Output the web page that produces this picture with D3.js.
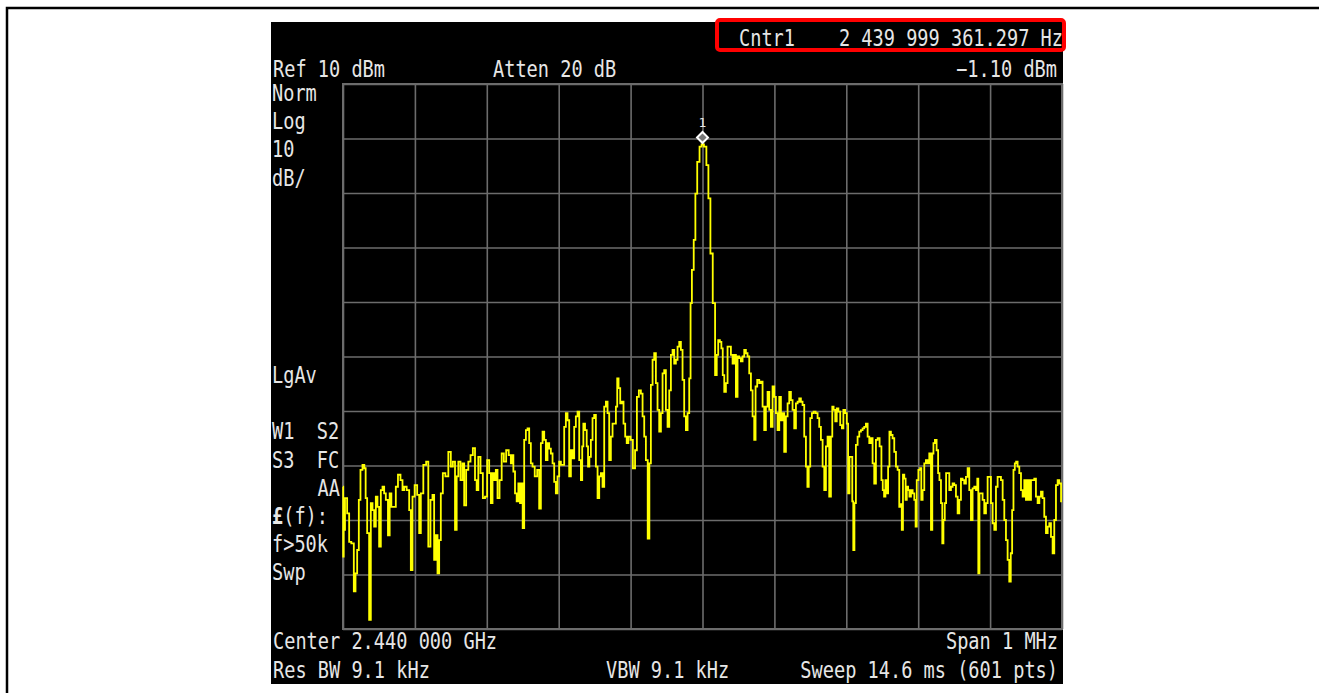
<!DOCTYPE html>
<html>
<head>
<meta charset="utf-8">
<script src="https://cdn.jsdelivr.net/npm/d3@7"></script>
<style>
  body { margin: 0; background: #fff; }
  text { font-family: "DejaVu Sans Mono", "Liberation Mono", monospace; fill: #e6e6e6; font-size: 19px; white-space: pre; }
</style>
</head>
<body>
<div id="vis"></div>
<script>
// Spectrum trace: frequency offset from centre (kHz) and level (dBm)
const freqOffsetKHz = [
  -500, -499.5, -498.6, -495.9, -492.6, -490.3, -486.6, -483.3, -481.9, -478.7, -477.3, -474.1, -471.7, -469.0, -468.0,
  -464.8, -462.5, -460.1, -457.8, -455.5, -453.2, -450.9, -448.6, -446.2, -443.9, -441.6, -439.3, -435.6, -434.6, -430.9,
  -427.7, -425.4, -421.7, -418.4, -416.1, -413.8, -409.1, -406.8, -404.5, -402.2, -398.5, -395.2, -392.9, -390.6, -386.0,
  -382.7, -380.0, -376.7, -374.4, -372.1, -369.7, -367.4, -365.1, -362.8, -359.5, -355.8, -351.2, -348.9, -345.6, -342.8,
  -341.0, -338.2, -335.0, -332.6, -330.3, -327.1, -324.3, -321.0, -317.8, -315.0, -313.2, -310.4, -307.1, -303.9, -301.1,
  -297.9, -295.5, -293.2, -290.9, -288.6, -286.3, -283.9, -280.7, -277.9, -274.7, -271.4, -267.7, -265.4,
  -264.0, -262.1, -259.4, -257.5, -254.7, -252.9, -251.0, -249.2, -246.8, -244.5, -242.2, -239.9, -237.6, -235.2, -231.5,
  -228.3, -226.0, -223.6, -221.3, -219.0, -216.7, -214.4, -212.1, -209.7, -207.4, -205.1, -202.8, -200.5, -198.1, -195.8,
  -193.5, -191.2, -188.9, -186.6, -184.2, -181.9, -179.6, -177.3, -175.0, -172.6, -170.3, -168.0, -166.6, -164.8, -162.0,
  -160.1, -158.3, -156.4, -154.1, -151.8, -149.5, -147.1, -144.8, -142.5, -140.2, -137.9, -135.5, -133.2, -130.9, -128.6,
  -126.3, -123.9, -121.6, -119.3, -117.9, -115.6, -113.3, -111.0, -108.7, -106.3, -104.5, -101.7, -98.5, -95.2, -92.4,
  -90.1, -86.9, -84.5, -82.2, -79.9, -77.6, -74.8, -73.0, -70.6, -68.3, -66.0, -63.7, -61.4, -59.0, -56.7,
  -54.4, -52.1, -49.8, -47.4, -45.1, -42.8, -40.5, -38.2, -35.9, -33.5, -31.2, -28.9, -26.6, -24.3, -21.9,
  -19.6, -17.3, -15.9, -13.6, -10.8, -9.0, -5.7, -2.5, 0, 4.0, 6.8, 9.6, 12.4, 16.1,
  18.9, 20.7, 23.0, 25.3, 27.2, 29.1, 31.4, 33.7, 36.0, 38.3, 40.7, 43.0, 45.3, 47.6, 49.9,
  52.2, 54.6, 56.9, 59.2, 61.5, 63.8, 66.2, 68.5, 70.8, 73.1, 74.5, 77.7, 80.1, 82.4, 84.7,
  87.0, 89.3, 91.7, 94.0, 96.3, 98.6, 100.9, 103.2, 105.6, 107.9, 110.2, 112.5, 114.8, 117.2, 119.5,
  121.8, 124.1, 126.4, 128.8, 131.1, 133.4, 135.7, 138.0, 140.3, 142.7, 145.0, 146.8, 148.7, 151.0, 153.3,
  155.7, 158.9, 161.2, 163.5, 165.9, 168.2, 170.5, 172.8, 175.1, 177.4, 179.8, 181.2, 183.5, 185.8, 187.6,
  190.4, 192.7, 195.0, 196.9, 199.7, 201.6, 203.4, 205.3, 207.6, 209.0, 210.4, 212.2, 214.5, 216.9, 219.2,
  221.5, 223.8, 226.1, 228.5, 230.8, 233.1, 235.4, 237.7, 240.0, 242.4, 244.7,
  247.9, 249.8, 251.6, 253.5, 255.3, 257.2, 259.1, 260.9, 263.2, 265.5, 267.9, 270.2, 272.5, 274.8, 276.2,
  278.1, 279.5, 281.8, 283.2, 285.0, 286.9, 288.7, 291.1, 293.4, 295.7, 297.1, 298.9, 301.7, 303.6, 305.0,
  307.3, 309.6, 311.9, 314.2, 316.6, 318.9, 320.3, 322.1, 324.4, 326.8, 328.6, 330.5, 332.8, 334.2, 336.0,
  337.9, 339.7, 342.1, 344.4, 346.7, 349.0, 351.3, 353.7, 356.0, 358.3, 360.6, 362.9, 365.2, 367.6, 369.9,
  372.2, 374.5, 376.8, 379.2, 381.5, 382.9, 384.3, 386.1, 388.4, 390.7, 393.1, 395.4, 397.7, 400.0, 402.3,
  404.7, 407.0, 409.3, 411.6, 413.9, 416.3, 418.6, 420.9, 423.2, 425.5, 427.8, 429.7, 431.6, 433.4, 435.3,
  437.1, 439.4, 441.8, 444.1, 446.4, 448.7, 451.0, 453.4, 455.7, 458.0, 460.3, 462.6, 464.9, 467.3, 469.6,
  471.9, 474.2, 476.5, 478.9, 481.2, 483.5, 485.8, 488.1, 490.4, 492.8, 495.1, 497.4, 500
]
const levelDBm = [
  -63.9, -76.7, -71.8, -66.0, -68.8, -74.0, -74.3, -83.1, -79.8, -75.5, -66.3, -60.8, -59.9, -60.5, -66.0,
  -72.4, -88.3, -66.9, -68.2, -71.2, -65.7, -67.6, -74.9, -64.5, -63.9, -65.1, -66.3, -72.8, -65.1, -67.6,
  -67.6, -63.9, -61.7, -62.7, -64.5, -63.9, -64.5, -68.2, -79.2, -65.7, -63.6, -65.4, -72.4, -65.1, -59.9,
  -59.3, -74.9, -66.3, -65.4, -77.3, -72.8, -79.8, -73.7, -65.1, -61.4, -62.0, -57.5, -60.2, -59.3, -71.8,
  -62.0, -59.3, -62.7, -59.6, -67.3, -60.8, -59.3, -58.1, -56.8, -62.7, -64.5, -58.4, -61.4, -66.0, -65.7,
  -59.0, -61.4, -66.9, -61.4, -62.7, -60.8, -66.0, -62.7, -57.8, -59.3, -57.2, -58.1, -59.6,
  -58.1, -61.1, -65.1, -66.6, -63.3, -66.9, -63.3, -71.5, -55.3, -53.5, -53.2, -55.9, -59.6, -60.2, -62.0,
  -60.8, -67.9, -55.9, -53.8, -55.3, -59.0, -55.9, -56.9, -57.8, -59.6, -63.0, -65.1, -62.0, -59.3, -59.9,
  -59.9, -52.9, -50.4, -51.7, -62.0, -57.2, -58.7, -52.9, -51.0, -50.1, -59.0, -62.7, -56.5, -52.3, -53.5,
  -56.5, -60.2, -58.4, -55.3, -51.3, -50.7, -60.2, -66.0, -62.0, -61.4, -63.9, -49.2, -48.3, -50.4, -59.0,
  -54.7, -52.3, -52.3, -49.2, -44.0, -45.8, -48.6, -48.3, -52.3, -54.7, -55.9, -54.7, -55.3, -60.5, -57.2,
  -47.4, -46.2, -46.8, -51.0, -54.7, -59.0, -73.4, -59.6, -45.2, -40.6, -39.4, -44.9, -49.8, -53.8, -50.4,
  -43.1, -42.5, -49.8, -52.9, -46.2, -39.7, -38.8, -41.3, -40.6, -38.2, -37.3, -38.8, -44.3, -51.0, -53.5,
  -50.4, -44.0, -30.2, -24.1, -18.6, -10.1, -4.3, -1.5, -1.1, -1.5, -4.9, -11.0, -21.1, -30.2,
  -43.4, -39.7, -37.0, -37.3, -38.5, -43.4, -46.5, -44.9, -38.2, -38.2, -39.7, -41.3, -39.7, -47.4, -40.0,
  -40.3, -40.9, -40.0, -38.8, -39.4, -40.0, -43.1, -46.2, -51.0, -55.3, -45.5, -44.3, -44.9, -44.6, -49.2,
  -53.5, -49.2, -46.5, -49.8, -52.9, -45.5, -47.4, -50.4, -53.5, -47.4, -51.7, -50.4, -57.5, -51.0, -48.6,
  -46.5, -48.0, -49.8, -53.2, -48.6, -48.3, -47.7, -48.3, -48.9, -54.7, -60.2, -63.9, -60.2, -51.3, -50.4,
  -50.1, -50.4, -51.3, -52.9, -55.3, -60.2, -64.5, -56.5, -54.7, -65.7, -54.7, -49.2, -49.8, -51.9, -49.5,
  -50.1, -52.6, -53.2, -49.8, -50.4, -52.3, -65.1, -58.4, -58.4, -66.6, -75.5, -66.9, -56.2, -54.7, -53.8,
  -53.5, -53.2, -52.9, -52.3, -54.7, -55.9, -55.0, -59.6, -63.3, -55.3, -55.0,
  -56.5, -62.7, -64.5, -65.7, -62.7, -65.1, -60.2, -53.8, -54.4, -55.0, -57.5, -60.2, -60.8, -67.6, -67.1,
  -71.8, -61.7, -62.4, -66.3, -63.9, -64.5, -65.7, -64.5, -65.1, -66.3, -71.2, -62.7, -60.8, -60.5, -66.3,
  -64.5, -59.6, -59.0, -59.6, -57.8, -71.8, -57.8, -55.9, -55.3, -57.2, -61.4, -62.7, -66.9, -74.3, -70.0,
  -66.9, -61.4, -61.4, -64.5, -63.9, -63.3, -63.6, -65.7, -68.8, -66.3, -62.4, -62.7, -63.3, -62.1, -60.5,
  -64.5, -70.0, -64.2, -63.9, -64.5, -62.4, -79.8, -65.1, -65.1, -66.3, -68.8, -66.9, -62.1, -62.1, -66.9,
  -70.6, -71.8, -63.9, -62.1, -62.1, -62.7, -66.3, -70.0, -73.7, -77.3, -81.3, -76.1, -68.2, -60.8, -59.6,
  -59.3, -60.2, -61.4, -64.5, -65.7, -62.7, -66.3, -62.7, -66.3, -62.7, -62.7, -62.4, -65.7, -66.9, -65.7,
  -64.8, -66.0, -69.4, -72.4, -71.2, -70.6, -73.1, -76.1, -70.0, -63.6, -62.7, -63.3, -66.6
]

const refLevel = 10, dbPerDiv = 10, vDivs = 10, hDivs = 10
const spanKHz = 1000
const markerFreq = 0, markerLevel = -1.10

const W = 1319, H = 693
const panel = { x: 271, y: 22, w: 792, h: 662 }
const plot = { left: 343, top: 84, width: 719, height: 545 }

const svg = d3.select('#vis').append('svg')
    .attr('width', W)
    .attr('height', H)

// outer frame of the page (only top and left visible)
svg.append('path')
    .attr('d', `M7,${H} L7,8 L${W},8`)
    .attr('fill', 'none')
    .attr('stroke', '#000')
    .attr('stroke-width', 2.5)

// instrument screen
svg.append('rect')
    .attr('x', panel.x).attr('y', panel.y)
    .attr('width', panel.w).attr('height', panel.h)
    .attr('fill', '#000')

const xScale = d3.scaleLinear()
    .domain([-spanKHz / 2, spanKHz / 2])
    .range([0, plot.width])
const yScale = d3.scaleLinear()
    .domain([refLevel - vDivs * dbPerDiv, refLevel])
    .range([plot.height, 0])

const g = svg.append('g')
    .attr('transform', `translate(${plot.left},${plot.top})`)

// graticule
const gridColor = '#6c6c6c'
g.append('g')
    .attr('class', 'grid')
    .attr('transform', `translate(0,${plot.height})`)
    .call(d3.axisBottom(xScale)
        .tickValues(d3.range(hDivs + 1).map(i => -spanKHz / 2 + i * spanKHz / hDivs))
        .tickSize(-plot.height).tickFormat(''))
g.append('g')
    .attr('class', 'grid')
    .call(d3.axisLeft(yScale)
        .tickValues(d3.range(vDivs + 1).map(i => refLevel - i * dbPerDiv))
        .tickSize(-plot.width).tickFormat(''))
g.selectAll('.grid .domain').remove()
g.selectAll('.grid line')
    .attr('stroke', gridColor)
    .attr('stroke-width', 1.6)

g.append('rect')
    .attr('width', plot.width).attr('height', plot.height)
    .attr('fill', 'none')
    .attr('stroke', gridColor)
    .attr('stroke-width', 2)

// trace
const trace = freqOffsetKHz.map((f, i) => ({ f: f, v: levelDBm[i] }))
const line = d3.line()
    .x(d => xScale(d.f))
    .y(d => yScale(d.v))
    .curve(d3.curveStep)

g.append('path')
    .datum(trace)
    .attr('d', line)
    .attr('fill', 'none')
    .attr('stroke', '#ffff00')
    .attr('stroke-width', 1.8)
    .attr('stroke-linejoin', 'miter')

// marker 1
const mx = xScale(markerFreq), my = yScale(markerLevel) - 7
g.append('path')
    .attr('d', d3.symbol(d3.symbolSquare, 60)())
    .attr('transform', `translate(${mx},${my}) rotate(45)`)
    .attr('fill', '#777')
    .attr('stroke', '#fff')
    .attr('stroke-width', 2)
g.append('text')
    .attr('x', mx).attr('y', my - 10)
    .attr('text-anchor', 'middle')
    .style('font-size', '13px')
    .text('1')

// annotations: the instrument font is tall and narrow, so stretch vertically
function label(x, y, txt, anchor) {
    return svg.append('text')
        .attr('transform', `translate(${x},${y}) scale(0.98,1.18)`)
        .attr('text-anchor', anchor || 'start')
        .text(txt)
}

label(739, 46, 'Cntr1')
label(1063, 46, '2 439 999 361.297 Hz', 'end')
label(273, 77, 'Ref 10 dBm')
label(493, 77, 'Atten 20 dB')
label(1057, 77, '\u22121.10 dBm', 'end')

const leftLabels = ['Norm', 'Log', '10', 'dB/', 'LgAv', 'W1  S2', 'S3  FC', 'AA', '(f):', 'f>50k', 'Swp']
const leftRows = [0, 1, 2, 3, 10, 12, 13, 14, 15, 16, 17]
leftLabels.forEach((t, i) => {
    const y = 101 + leftRows[i] * 28.2
    if (t === 'AA') {
        label(340, y, t, 'end')
    } else if (t === '(f):') {
        const el = label(272, y, '')
        el.append('tspan').style('font-weight', 'bold').text('\u00a3')
        el.append('tspan').text(t)
    } else {
        label(272, y, t)
    }
})

label(273, 649, 'Center 2.440 000 GHz')
label(1058, 649, 'Span 1 MHz', 'end')
label(273, 678, 'Res BW 9.1 kHz')
label(606, 678, 'VBW 9.1 kHz')
label(1058, 678, 'Sweep 14.6 ms (601 pts)', 'end')

// highlight box round the counter readout
svg.append('rect')
    .attr('x', 717).attr('y', 20)
    .attr('width', 347).attr('height', 30)
    .attr('rx', 3)
    .attr('fill', 'none')
    .attr('stroke', '#ff0000')
    .attr('stroke-width', 4)
</script>
</body>
</html>
